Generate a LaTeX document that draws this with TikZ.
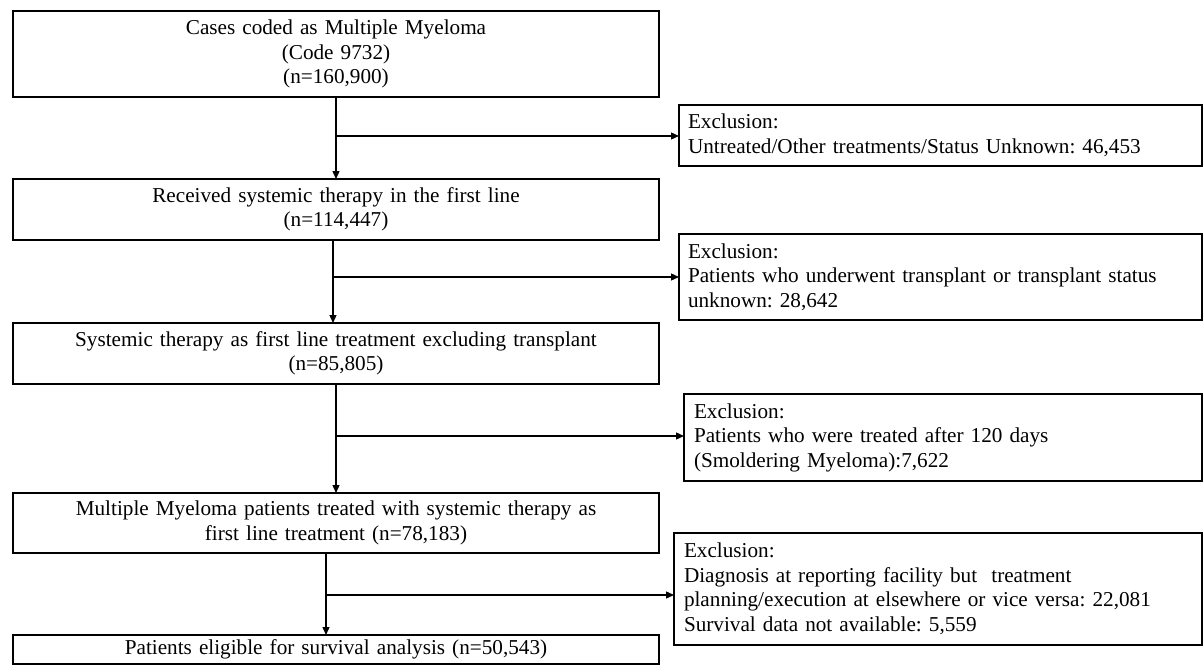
\documentclass[tikz,border=0pt]{standalone}
\usepackage{fontspec}
\setmainfont{Liberation Serif}
\usetikzlibrary{arrows.meta}
\newcommand{\fsz}{\fontsize{21.2}{24.5}\selectfont\frenchspacing}
\begin{document}
\begin{tikzpicture}[x=1pt,y=-1pt,
  flowbox/.style={draw, line width=1.3pt, inner xsep=9pt, inner ysep=2pt, outer sep=0pt, font=\fsz},
  mainbox/.style={flowbox, align=center, minimum width=646pt, text width=628pt},
  exbox/.style={flowbox, align=left},
  conn/.style={line width=1.3pt},
  arr/.style={conn, -{Triangle[length=8pt,width=7pt]}}]
\useasboundingbox (0,0) rectangle (1203,667);
% main boxes
\node[mainbox, minimum height=86pt] (b1) at (336,54) {Cases coded as Multiple Myeloma\\(Code 9732)\\(n=160,900)};
\node[mainbox, minimum height=61pt] (b2) at (336,209.5) {Received systemic therapy in the first line\\(n=114,447)};
\node[mainbox, minimum height=61pt] (b3) at (336,353.5) {Systemic therapy as first line treatment excluding transplant\\(n=85,805)};
\node[mainbox, minimum height=60pt] (b4) at (336,523) {Multiple Myeloma patients treated with systemic therapy as\\first line treatment (n=78,183)};
\node[mainbox, minimum height=29pt] (b5) at (336,649.5) {Patients eligible for survival analysis (n=50,543)};
% exclusion boxes
\node[exbox, minimum width=523pt, text width=505pt, minimum height=61pt] (e1) at (940.5,135.5) {Exclusion:\\Untreated/Other treatments/Status Unknown: 46,453};
\node[exbox, minimum width=523pt, text width=505pt, minimum height=86pt] (e2) at (940.5,277) {Exclusion:\\Patients who underwent transplant or transplant status\\unknown: 28,642};
\node[exbox, inner xsep=10pt, minimum width=518pt, text width=498pt, minimum height=87pt] (e3) at (943,437.5) {Exclusion:\\Patients who were treated after 120 days\\(Smoldering Myeloma):7,622};
\node[exbox, inner xsep=10pt, minimum width=528pt, text width=508pt, minimum height=112pt] (e4) at (938,589) {Exclusion:\\Diagnosis at reporting facility but~ treatment\\planning/execution at elsewhere or vice versa: 22,081\\Survival data not available: 5,559};
% junction points
\coordinate (j1) at (336,136);
\coordinate (j2) at (333,277);
\coordinate (j3) at (336,436);
\coordinate (j4) at (326,595);
% connectors
\draw[arr] (b1.south -| j1) -- (b2.north -| j1);
\draw[arr] (j1) -- (e1.west |- j1);
\draw[arr] (b2.south -| j2) -- (b3.north -| j2);
\draw[arr] (j2) -- (e2.west |- j2);
\draw[arr] (b3.south -| j3) -- (b4.north -| j3);
\draw[arr] (j3) -- (e3.west |- j3);
\draw[arr] (b4.south -| j4) -- (b5.north -| j4);
\draw[arr] (j4) -- (e4.west |- j4);
\end{tikzpicture}
\end{document}
